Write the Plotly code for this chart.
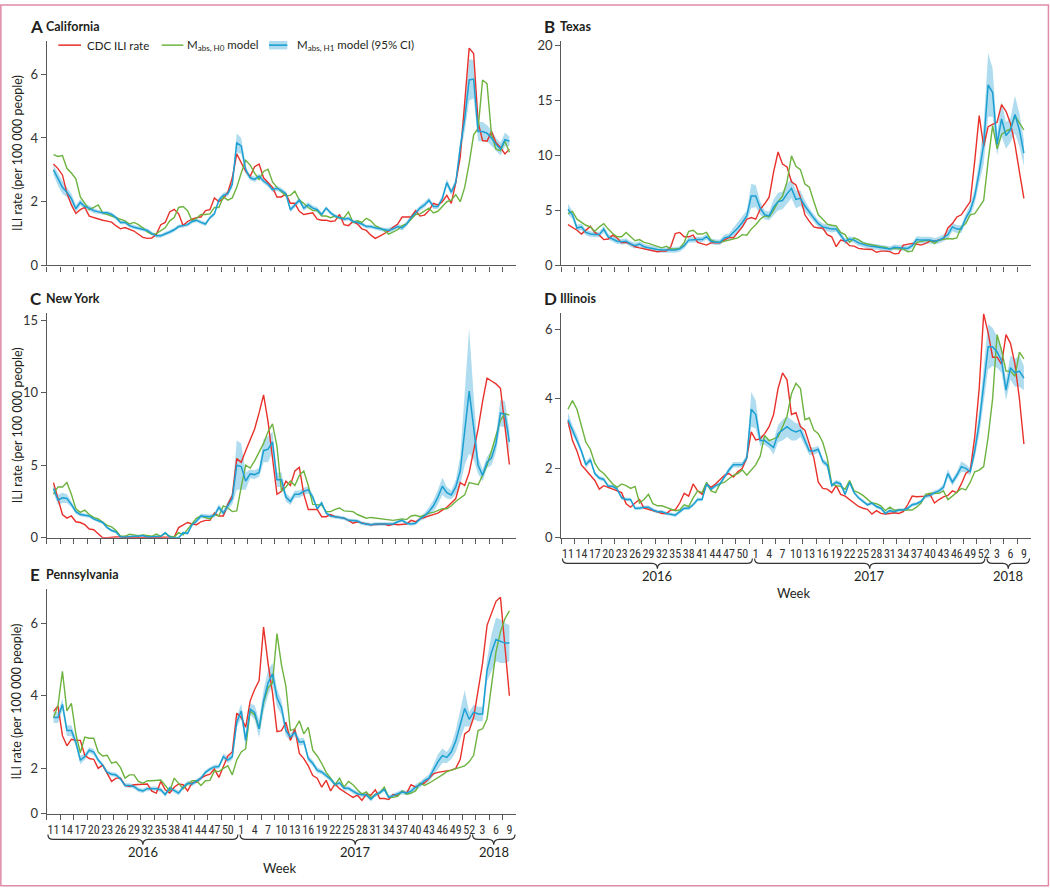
import plotly.graph_objects as go

# ---------------- data ----------------
weeks_2016 = list(range(11, 53))
weeks_2017 = list(range(1, 53))
weeks_2018 = list(range(1, 10))
week_numbers = weeks_2016 + weeks_2017 + weeks_2018
week_years = [2016] * len(weeks_2016) + [2017] * len(weeks_2017) + [2018] * len(weeks_2018)
year_labels = [2016, 2017, 2018]
x_idx = list(range(len(week_numbers)))

series_labels = ["CDC ILI rate", "M<sub>abs, H0</sub> model", "M<sub>abs, H1</sub> model (95% CI)"]
panel_letters = ["A", "B", "C", "D", "E"]
panel_states = ["California", "Texas", "New York", "Illinois", "Pennsylvania"]

# California
ca_cdc = [3.18, 3.04, 2.84, 2.27, 1.9, 1.63, 1.75, 1.82, 1.55, 1.5,
          1.47, 1.42, 1.39, 1.36, 1.24, 1.15, 1.19, 1.13, 1.08, 0.98,
          0.88, 0.85, 0.86, 0.98, 1.28, 1.35, 1.68, 1.76, 1.62, 1.25,
          1.38, 1.45, 1.5, 1.52, 1.72, 1.75, 2.12, 2.0, 2.1, 2.3,
          2.75, 3.5, 3.2, 2.95, 2.8, 3.1, 3.18, 2.75, 2.6, 2.45,
          2.15, 2.15, 2.25, 1.95, 1.95, 1.7, 1.6, 1.62, 1.65, 1.45,
          1.42, 1.42, 1.38, 1.4, 1.6, 1.28, 1.25, 1.38, 1.3, 1.15,
          1.1, 0.95, 0.85, 0.92, 1.0, 1.08, 1.2, 1.3, 1.52, 1.52,
          1.52, 1.72, 1.55, 1.58, 1.72, 1.95, 1.9, 2.0, 2.2, 1.95,
          2.6, 3.4, 5.0, 6.82, 6.65, 4.5, 3.92, 3.9, 4.2, 3.85,
          3.7, 3.5, 3.65]
ca_h0 = [3.48, 3.42, 3.45, 3.05, 2.9, 2.72, 2.15, 1.95, 1.75, 1.82,
         1.9, 1.65, 1.6, 1.55, 1.5, 1.47, 1.4, 1.3, 1.35, 1.28,
         1.18, 1.05, 0.98, 1.0, 1.1, 1.18, 1.4, 1.5, 1.82, 1.85,
         1.72, 1.4, 1.48, 1.6, 1.6, 1.62, 1.82, 1.82, 2.15, 2.05,
         2.12, 2.45, 2.9, 3.3, 3.15, 2.9, 2.7, 2.95, 3.02, 2.62,
         2.45, 2.32, 2.18, 2.2, 2.33, 2.05, 1.95, 1.82, 1.72, 1.72,
         1.55, 1.55, 1.5, 1.55, 1.48, 1.5, 1.68, 1.35, 1.4, 1.35,
         1.48, 1.4, 1.25, 1.18, 1.1, 0.98, 1.05, 1.12, 1.25, 1.3,
         1.45, 1.6, 1.62, 1.7, 1.8, 1.65, 1.7, 1.85, 2.0, 2.05,
         2.22, 2.0, 2.45, 3.2, 4.1, 4.3, 5.82, 5.7, 4.1, 3.65,
         3.6, 3.9, 3.55]
ca_h1 = [3.0, 2.7, 2.45, 2.3, 2.1, 1.78, 1.98, 1.85, 1.8, 1.72,
         1.68, 1.65, 1.65, 1.6, 1.5, 1.35, 1.35, 1.25, 1.2, 1.17,
         1.15, 1.1, 1.0, 0.93, 0.93, 0.98, 1.05, 1.12, 1.22, 1.25,
         1.28, 1.38, 1.42, 1.35, 1.3, 1.5, 1.62, 2.05, 2.2, 2.25,
         2.55, 3.85, 3.75, 3.0, 2.75, 2.7, 2.8, 2.65, 2.55, 2.38,
         2.42, 2.35, 2.25, 1.75, 1.9, 2.05, 1.8, 1.9, 1.8, 1.75,
         1.6, 1.8, 1.65, 1.55, 1.5, 1.45, 1.48, 1.38, 1.35, 1.3,
         1.22, 1.22, 1.18, 1.15, 1.12, 1.1, 1.15, 1.22, 1.18, 1.3,
         1.5, 1.65, 1.8, 1.9, 2.05, 1.85, 1.85, 2.1, 2.6, 2.3,
         2.6, 3.7, 4.6, 5.82, 5.85, 4.2, 4.2, 4.15, 4.0, 3.8,
         3.65, 3.95, 3.9]
ca_h1_ci = [0.15, 0.2, 0.2, 0.15, 0.15, 0.12, 0.1, 0.08, 0.08, 0.08,
            0.06, 0.06, 0.06, 0.06, 0.06, 0.06, 0.06, 0.06, 0.06, 0.06,
            0.06, 0.06, 0.06, 0.06, 0.06, 0.06, 0.06, 0.06, 0.06, 0.06,
            0.06, 0.06, 0.06, 0.06, 0.06, 0.06, 0.06, 0.08, 0.08, 0.08,
            0.12, 0.3, 0.25, 0.12, 0.08, 0.08, 0.08, 0.08, 0.08, 0.08,
            0.08, 0.08, 0.08, 0.08, 0.08, 0.08, 0.08, 0.08, 0.08, 0.08,
            0.06, 0.06, 0.06, 0.06, 0.06, 0.06, 0.06, 0.06, 0.06, 0.06,
            0.06, 0.06, 0.06, 0.06, 0.06, 0.08, 0.08, 0.08, 0.08, 0.08,
            0.08, 0.08, 0.08, 0.08, 0.08, 0.08, 0.08, 0.1, 0.12, 0.1,
            0.12, 0.2, 0.4, 0.65, 0.6, 0.3, 0.3, 0.25, 0.25, 0.2,
            0.2, 0.22, 0.15]

# Texas
tx_cdc = [3.7, 3.45, 3.2, 2.85, 3.2, 3.55, 3.0, 2.75, 2.35, 2.4,
          2.75, 2.5, 2.05, 2.1, 1.95, 1.7, 1.6, 1.5, 1.45, 1.3,
          1.25, 1.3, 1.3, 1.7, 2.9, 3.0, 2.6, 2.6, 2.75, 2.1,
          1.95, 1.85, 2.05, 2.05, 2.05, 2.3, 2.55, 2.5, 3.0, 3.5,
          4.2, 4.35, 4.2, 5.1, 5.6, 6.2, 8.5, 10.3, 9.2, 8.95,
          7.6, 7.3, 6.2, 4.6, 4.0, 3.5, 3.4, 3.4, 2.8, 2.6,
          1.7, 2.3, 2.2, 1.8, 1.75, 1.55, 1.5, 1.5, 1.45, 1.2,
          1.3, 1.3, 1.25, 1.05, 1.1, 1.85, 1.9, 2.0, 1.95, 1.85,
          2.0, 2.2, 2.2, 2.3, 2.4, 3.4, 3.8, 4.4, 4.6, 5.2,
          5.8, 9.5, 13.6, 10.8, 12.6, 12.8, 13.0, 14.6, 14.0, 12.9,
          11.0, 8.5, 6.1]
tx_h0 = [4.7, 4.9, 4.2, 3.9, 3.65, 3.5, 3.1, 3.5, 3.8, 3.3,
         2.9, 2.6, 2.6, 3.0, 2.6, 2.25, 2.35, 2.1, 2.0, 1.85,
         1.7, 1.6, 1.75, 1.5, 1.5, 1.55, 2.1, 3.1, 3.2, 2.85,
         2.85, 3.0, 2.3, 2.15, 2.1, 2.2, 2.3, 2.35, 2.5, 2.8,
         2.75, 3.3, 3.7, 4.2, 4.5, 4.4, 5.0, 5.8, 6.3, 7.6,
         9.95, 9.0, 8.7, 7.4, 7.1, 5.8, 4.6, 4.2, 3.75, 3.65,
         3.6, 3.0, 2.8, 2.1, 2.5, 2.35, 2.05, 1.95, 1.85, 1.75,
         1.7, 1.65, 1.5, 1.55, 1.55, 1.5, 1.25, 1.3, 2.1, 2.2,
         2.25, 2.25, 2.0, 2.3, 2.4, 2.45, 2.4, 2.5, 3.5, 3.8,
         4.6, 4.7, 5.3, 5.9, 9.5, 12.7, 10.6, 11.9, 12.2, 12.4,
         13.6, 13.0, 12.3]
tx_h1 = [5.1, 4.6, 3.4, 3.5, 3.0, 2.85, 2.8, 2.8, 3.3, 2.6,
         2.4, 2.2, 2.15, 2.2, 1.95, 1.8, 1.95, 1.7, 1.6, 1.5,
         1.45, 1.4, 1.4, 1.4, 1.4, 1.5, 1.8, 2.3, 2.35, 2.35,
         2.35, 2.6, 2.2, 2.1, 2.1, 2.5, 2.6, 3.0, 3.4, 3.9,
         4.5, 6.3, 6.3, 5.2, 4.6, 4.5, 5.3, 5.8, 5.9, 6.5,
         7.0, 6.0, 6.1, 5.4, 4.8, 4.3, 3.8, 3.5, 3.4, 3.3,
         3.3, 2.8, 2.2, 2.4, 2.3, 2.05, 1.9, 1.8, 1.75, 1.7,
         1.6, 1.6, 1.5, 1.65, 1.6, 1.55, 1.55, 1.8, 2.35, 2.3,
         2.3, 2.3, 2.2, 2.3, 2.5, 2.8, 3.5, 3.3, 3.3, 4.3,
         5.0, 6.3, 8.5, 11.0, 16.4, 15.7, 11.0, 13.3, 11.8, 12.3,
         13.7, 12.3, 10.2]
tx_h1_ci = [0.5, 0.35, 0.3, 0.3, 0.25, 0.25, 0.25, 0.25, 0.3, 0.25,
            0.25, 0.25, 0.25, 0.25, 0.25, 0.25, 0.25, 0.25, 0.25, 0.25,
            0.25, 0.25, 0.25, 0.25, 0.25, 0.25, 0.25, 0.25, 0.25, 0.25,
            0.25, 0.25, 0.25, 0.25, 0.25, 0.3, 0.3, 0.4, 0.5, 0.5,
            0.5, 1.1, 1.0, 0.6, 0.4, 0.4, 0.7, 0.8, 0.8, 0.9,
            0.9, 0.8, 0.7, 0.5, 0.4, 0.35, 0.3, 0.3, 0.3, 0.3,
            0.25, 0.25, 0.25, 0.25, 0.25, 0.25, 0.25, 0.25, 0.25, 0.25,
            0.25, 0.25, 0.25, 0.25, 0.25, 0.25, 0.25, 0.25, 0.3, 0.3,
            0.3, 0.3, 0.3, 0.3, 0.3, 0.4, 0.4, 0.35, 0.35, 0.4,
            0.5, 0.7, 1.0, 1.8, 2.9, 2.2, 1.0, 1.6, 1.2, 1.1,
            1.7, 1.5, 1.2]

# New York
ny_cdc = [3.8, 2.7, 1.6, 1.35, 1.5, 1.1, 1.05, 0.9, 0.6, 0.55,
          0.3, 0.0, 0.0, 0.05, 0.05, 0.05, 0.0, 0.0, 0.0, 0.0,
          0.05, 0.0, 0.0, 0.0, 0.0, 0.05, 0.0, 0.05, 0.7, 0.9,
          1.05, 0.95, 0.9, 1.1, 1.2, 1.2, 1.7, 1.5, 1.5, 2.3,
          2.9, 5.45, 5.2, 6.0, 6.7, 7.5, 8.6, 9.85, 8.0, 5.5,
          3.0, 3.2, 3.9, 3.6, 4.6, 4.85, 3.0, 1.95, 1.95, 1.95,
          1.45, 1.45, 1.6, 1.45, 1.4, 1.35, 1.2, 1.0, 1.1, 1.0,
          0.95, 0.9, 0.9, 0.9, 0.95, 0.85, 0.95, 0.9, 0.9, 0.95,
          1.2, 1.1, 1.3, 1.4, 1.5, 1.6, 1.7, 1.9, 2.1, 2.4,
          2.7, 3.8, 3.6, 4.5, 6.0, 7.5, 9.4, 11.0, 10.8, 10.6,
          10.3, 7.5, 5.05]
ny_h0 = [3.0, 3.5, 3.5, 3.8, 3.0, 2.0, 1.75, 1.9, 1.6, 1.4,
         1.3, 1.1, 0.85, 0.75, 0.5, 0.1, 0.1, 0.25, 0.2, 0.15,
         0.2, 0.15, 0.1, 0.25, 0.1, 0.3, 0.1, 0.05, 0.35, 0.2,
         0.6, 1.0, 1.35, 1.5, 1.4, 1.3, 1.6, 1.5, 2.2, 2.05,
         1.8, 1.85, 3.5, 5.0, 4.8, 5.3, 5.9, 6.5, 7.3, 7.85,
         6.3, 3.2, 3.5, 3.9, 3.6, 4.3, 4.6, 3.6, 2.3, 2.3,
         2.25, 1.8, 1.8, 1.95, 2.05, 1.85, 1.8, 1.8, 1.6, 1.5,
         1.35, 1.4, 1.35, 1.3, 1.25, 1.25, 1.2, 1.25, 1.3, 1.25,
         1.5, 1.55, 1.45, 1.55, 1.7, 1.75, 1.9, 2.0, 2.0, 2.2,
         2.5, 2.75, 2.95, 3.8, 3.7, 3.65, 4.3, 5.0, 6.0, 7.0,
         8.1, 8.55, 8.45]
ny_h1 = [3.4, 2.6, 2.75, 2.7, 2.3, 1.8, 1.6, 1.55, 1.5, 1.3,
         1.15, 1.05, 0.7, 0.5, 0.4, 0.05, 0.05, 0.1, 0.1, 0.1,
         0.15, 0.05, 0.05, 0.1, 0.1, 0.35, 0.05, 0.0, 0.0, 0.35,
         0.3, 0.9, 1.15, 1.5, 1.5, 1.45, 1.55, 2.1, 1.7, 2.2,
         2.7, 5.0, 4.9, 3.9, 4.4, 4.35, 4.5, 6.0, 6.1, 6.6,
         4.0, 4.0, 2.8, 2.5, 3.0, 3.0, 3.2, 3.3, 2.8, 2.0,
         2.4, 1.7, 1.5, 1.45, 1.4, 1.35, 1.2, 1.15, 1.15, 1.0,
         0.95, 0.9, 0.95, 0.95, 0.95, 0.9, 0.95, 1.1, 1.2, 1.0,
         0.95, 1.0, 1.3, 1.5, 1.8, 2.2, 2.8, 3.55, 3.1, 2.95,
         3.5, 4.6, 7.5, 10.1, 7.6, 5.0, 4.3, 5.2, 5.5, 6.5,
         8.6, 8.5, 6.6]
ny_h1_ci = [0.3, 0.35, 0.35, 0.3, 0.2, 0.15, 0.12, 0.12, 0.12, 0.12,
            0.1, 0.1, 0.1, 0.1, 0.1, 0.08, 0.08, 0.08, 0.08, 0.08,
            0.08, 0.08, 0.08, 0.08, 0.08, 0.08, 0.08, 0.08, 0.08, 0.08,
            0.1, 0.12, 0.15, 0.15, 0.15, 0.15, 0.15, 0.2, 0.2, 0.25,
            0.4, 1.7, 1.6, 0.6, 0.3, 0.3, 0.3, 0.8, 0.9, 0.7,
            0.5, 0.5, 0.3, 0.25, 0.25, 0.25, 0.25, 0.25, 0.2, 0.15,
            0.15, 0.12, 0.12, 0.12, 0.12, 0.12, 0.12, 0.12, 0.12, 0.12,
            0.12, 0.12, 0.12, 0.12, 0.12, 0.12, 0.12, 0.12, 0.12, 0.12,
            0.12, 0.12, 0.15, 0.2, 0.3, 0.4, 0.5, 0.6, 0.4, 0.3,
            0.5, 1.0, 2.5, 4.3, 2.2, 0.6, 0.4, 0.4, 0.5, 0.6,
            0.9, 0.9, 0.8]

# Illinois
il_cdc = [3.35, 2.8, 2.5, 2.1, 1.95, 1.8, 1.65, 1.4, 1.5, 1.45,
          1.4, 1.35, 1.3, 0.98, 0.88, 1.0, 1.1, 0.85, 0.82, 0.8,
          0.75, 0.7, 0.7, 0.8, 0.8, 1.0, 1.28, 1.2, 1.55, 1.35,
          1.25, 1.55, 1.45, 1.55, 1.68, 1.8, 1.85, 1.75, 1.9, 2.0,
          2.3, 3.05, 2.82, 2.85, 3.0, 3.2, 3.55, 4.3, 4.75, 4.55,
          3.55, 3.6, 3.2, 3.1, 2.7, 2.3, 1.6, 1.42, 1.4, 1.3,
          1.5, 1.25, 1.2, 1.1, 1.0, 0.9, 0.85, 0.82, 0.68, 0.78,
          0.7, 0.68, 0.7, 0.72, 0.7, 0.75, 0.95, 1.2, 1.18, 1.18,
          1.2, 1.25, 1.0, 1.1, 1.18, 1.22, 1.35, 1.3, 1.55, 1.85,
          1.95, 2.9, 4.3, 6.45, 5.9, 5.2, 5.2, 5.0, 5.85, 5.6,
          5.0, 4.0, 2.7]
il_h0 = [3.7, 3.95, 3.7, 3.2, 2.75, 2.55, 2.15, 1.95, 1.85, 1.7,
         1.55, 1.45, 1.55, 1.5, 1.42, 1.48, 1.0, 1.1, 1.25, 0.98,
         0.92, 0.92, 0.88, 0.82, 0.78, 0.8, 0.95, 0.9, 1.15, 1.35,
         1.3, 1.6, 1.35, 1.3, 1.55, 1.6, 1.7, 1.8, 1.85, 1.95,
         1.8, 1.95, 2.1, 2.35, 2.95, 2.8, 2.85, 2.9, 3.2, 3.5,
         4.15, 4.45, 4.3, 3.4, 3.45, 3.1, 3.0, 2.75, 2.3, 1.55,
         1.5, 1.48, 1.4, 1.65, 1.35, 1.3, 1.22, 1.12, 1.0, 0.98,
         0.92, 0.78, 0.88, 0.8, 0.8, 0.8, 0.8, 0.8, 0.88, 1.0,
         1.25, 1.28, 1.28, 1.28, 1.35, 1.1, 1.2, 1.3, 1.42, 1.38,
         1.6, 1.9, 1.95, 2.05, 2.9, 4.0, 5.85, 5.4, 4.8, 4.8,
         4.65, 5.35, 5.15]
il_h1 = [3.4, 3.1, 2.85, 2.5, 2.1, 2.25, 1.85, 1.72, 1.68, 1.48,
         1.48, 1.4, 1.15, 1.1, 1.1, 0.85, 0.85, 0.88, 0.88, 0.8,
         0.75, 0.75, 0.7, 0.68, 0.65, 0.75, 0.85, 0.85, 0.95, 1.1,
         1.1, 1.55, 1.4, 1.5, 1.55, 1.75, 1.95, 2.1, 2.1, 2.1,
         2.3, 3.7, 3.55, 2.8, 2.8, 2.7, 2.6, 3.0, 3.1, 3.2,
         3.1, 3.05, 3.1, 2.8, 2.5, 2.5, 2.55, 2.2, 2.1, 1.5,
         1.6, 1.55, 1.25, 1.6, 1.3, 1.15, 1.05, 0.95, 1.0, 0.9,
         0.85, 0.7, 0.78, 0.75, 0.8, 0.8, 0.85, 0.95, 0.98, 1.05,
         1.2, 1.22, 1.3, 1.35, 1.45, 1.85, 1.6, 1.8, 2.05, 2.0,
         1.9, 2.5, 3.3, 4.4, 5.5, 5.5, 5.35, 5.1, 4.25, 4.9,
         4.75, 4.8, 4.6]
il_h1_ci = [0.2, 0.15, 0.12, 0.1, 0.1, 0.08, 0.06, 0.06, 0.06, 0.06,
            0.05, 0.05, 0.05, 0.05, 0.05, 0.05, 0.05, 0.05, 0.05, 0.05,
            0.05, 0.05, 0.05, 0.05, 0.05, 0.05, 0.05, 0.05, 0.05, 0.05,
            0.05, 0.06, 0.06, 0.06, 0.06, 0.06, 0.08, 0.08, 0.08, 0.08,
            0.1, 0.5, 0.4, 0.15, 0.12, 0.12, 0.2, 0.25, 0.3, 0.3,
            0.3, 0.25, 0.2, 0.15, 0.12, 0.1, 0.1, 0.08, 0.08, 0.06,
            0.06, 0.06, 0.06, 0.06, 0.05, 0.05, 0.05, 0.05, 0.05, 0.05,
            0.05, 0.05, 0.05, 0.05, 0.05, 0.05, 0.05, 0.05, 0.05, 0.05,
            0.06, 0.06, 0.06, 0.06, 0.1, 0.12, 0.1, 0.1, 0.15, 0.12,
            0.1, 0.2, 0.35, 0.5, 0.65, 0.55, 0.45, 0.35, 0.3, 0.35,
            0.4, 0.45, 0.35]

# Pennsylvania
pa_cdc = [3.57, 3.72, 2.9, 2.62, 2.8, 2.77, 2.77, 2.36, 2.27, 2.25,
          2.0, 2.09, 1.86, 1.64, 1.73, 1.73, 1.53, 1.5, 1.55, 1.55,
          1.57, 1.57, 1.37, 1.32, 1.64, 1.41, 1.32, 1.48, 1.57, 1.55,
          1.38, 1.6, 1.62, 1.73, 1.8, 1.84, 1.98, 1.75, 2.05, 2.34,
          2.45, 3.52, 3.4, 3.13, 3.86, 4.17, 4.42, 5.89, 4.9, 4.08,
          3.01, 3.04, 3.27, 2.77, 3.09, 2.41, 2.27, 2.07, 1.8, 1.73,
          1.48, 1.67, 1.38, 1.57, 1.44, 1.35, 1.28, 1.2, 1.26, 1.12,
          1.29, 1.26, 1.41, 1.17, 1.17, 1.14, 1.28, 1.26, 1.37, 1.32,
          1.55, 1.48, 1.55, 1.59, 1.73, 1.85, 1.89, 1.91, 1.93, 1.95,
          2.0, 2.25, 2.95, 3.04, 3.4, 4.1, 4.9, 5.94, 6.3, 6.6,
          6.71, 5.4, 4.0]
pa_h0 = [3.4, 3.72, 4.67, 3.58, 3.79, 2.95, 2.43, 2.86, 2.83, 2.83,
         2.45, 2.34, 2.36, 2.14, 2.18, 2.02, 1.73, 1.82, 1.82, 1.64,
         1.59, 1.66, 1.66, 1.66, 1.68, 1.53, 1.37, 1.73, 1.59, 1.44,
         1.57, 1.66, 1.66, 1.53, 1.66, 1.67, 1.93, 1.91, 2.0, 2.07,
         1.82, 2.23, 2.45, 2.54, 3.58, 3.47, 3.09, 3.81, 4.22, 4.35,
         5.71, 4.85, 4.26, 3.04, 3.09, 3.31, 2.95, 3.13, 2.5, 2.34,
         2.14, 1.89, 1.73, 1.55, 1.73, 1.48, 1.64, 1.55, 1.41, 1.29,
         1.35, 1.19, 1.28, 1.32, 1.48, 1.2, 1.2, 1.23, 1.38, 1.29,
         1.32, 1.38, 1.59, 1.53, 1.59, 1.66, 1.73, 1.82, 1.91, 1.95,
         2.0, 2.05, 2.07, 2.18, 2.36, 3.04, 3.09, 3.36, 4.35, 5.21,
         5.76, 6.12, 6.34]
pa_h1 = [3.4, 3.4, 3.76, 3.04, 3.04, 2.72, 2.23, 2.32, 2.5, 2.45,
         2.23, 2.09, 1.89, 1.84, 1.82, 1.71, 1.53, 1.53, 1.5, 1.41,
         1.38, 1.44, 1.44, 1.44, 1.41, 1.28, 1.46, 1.38, 1.32, 1.48,
         1.59, 1.57, 1.66, 1.73, 1.89, 1.98, 2.04, 2.05, 2.32, 2.23,
         2.32, 3.27, 3.58, 2.77, 3.63, 3.54, 3.09, 3.86, 4.35, 4.6,
         3.95, 3.67, 3.04, 2.86, 2.99, 2.72, 2.74, 2.27, 2.14, 1.95,
         1.9, 1.8, 1.7, 1.55, 1.6, 1.45, 1.45, 1.37, 1.3, 1.27,
         1.27, 1.15, 1.27, 1.33, 1.42, 1.2, 1.25, 1.28, 1.35, 1.32,
         1.37, 1.48, 1.55, 1.66, 1.73, 1.95, 2.18, 2.35, 2.3, 2.45,
         2.75, 3.2, 3.65, 3.35, 3.55, 3.5, 3.5, 4.7, 5.2, 5.55,
         5.5, 5.45, 5.45]
pa_h1_ci = [0.15, 0.15, 0.15, 0.15, 0.15, 0.12, 0.12, 0.08, 0.08, 0.08,
            0.06, 0.06, 0.06, 0.06, 0.06, 0.06, 0.06, 0.06, 0.06, 0.06,
            0.06, 0.06, 0.06, 0.06, 0.06, 0.06, 0.06, 0.06, 0.06, 0.06,
            0.06, 0.06, 0.06, 0.06, 0.06, 0.06, 0.06, 0.06, 0.08, 0.08,
            0.08, 0.15, 0.2, 0.2, 0.15, 0.2, 0.25, 0.3, 0.35, 0.3,
            0.25, 0.2, 0.15, 0.1, 0.1, 0.1, 0.1, 0.08, 0.08, 0.08,
            0.06, 0.06, 0.06, 0.06, 0.06, 0.06, 0.06, 0.06, 0.06, 0.06,
            0.06, 0.06, 0.06, 0.06, 0.06, 0.06, 0.06, 0.06, 0.06, 0.06,
            0.08, 0.08, 0.08, 0.08, 0.1, 0.15, 0.2, 0.2, 0.15, 0.2,
            0.3, 0.4, 0.5, 0.2, 0.2, 0.2, 0.2, 0.3, 0.5, 0.6,
            0.6, 0.55, 0.5]

# y-axis tick values per panel (Pennsylvania's drawn axis starts its "0" at ~0.75)
y_tickvals = [[0, 2, 4, 6], [0, 5, 10, 15, 20], [0, 5, 10, 15], [0, 2, 4, 6], [0.751, 2, 4, 6]]
y_ticktext = [["0", "2", "4", "6"], ["0", "5", "10", "15", "20"], ["0", "5", "10", "15"],
              ["0", "2", "4", "6"], ["0", "2", "4", "6"]]
y_ranges = [[0, 7.05], [0, 20.4], [0, 15.5], [0, 6.48], [0.751, 6.93]]

panels = [
    (ca_cdc, ca_h0, ca_h1, ca_h1_ci),
    (tx_cdc, tx_h0, tx_h1, tx_h1_ci),
    (ny_cdc, ny_h0, ny_h1, ny_h1_ci),
    (il_cdc, il_h0, il_h1, il_h1_ci),
    (pa_cdc, pa_h0, pa_h1, pa_h1_ci),
]

# ---------------- style ----------------
W, H = 1050, 895
FONT = "Lato"
NARROW = "Liberation Sans Narrow, Roboto Condensed, Lato"
TXT = "#231f20"
AX = "#595959"
RED = "#e8312b"
GREEN = "#6db33f"
BLUE = "#1c9fd2"
BAND = "rgba(150,208,234,0.75)"

def px_x(p):
    return p / W

def px_y(p):
    return 1 - p / H

col_dom = [[px_x(46.8), px_x(516.1)], [px_x(561.3), px_x(1030.6)]]
row_px = [(37.3, 265.0), (313.0, 541.0), (593.3, 820.7)]
row_dom = [[px_y(b), px_y(t)] for (t, b) in row_px]
panel_pos = [(0, 0), (1, 0), (0, 1), (1, 1), (0, 2)]  # (col, row)
show_xlabels = [False, False, False, True, True]

label_idx = x_idx[::3]
label_txt = [str(week_numbers[i]) for i in label_idx]
minor_vals = [i - 1.5 for i in range(0, len(x_idx) + 2, 3)]

fig = go.Figure()
layout = dict(
    width=W, height=H, margin=dict(l=0, r=0, t=0, b=0),
    paper_bgcolor="white", plot_bgcolor="white", showlegend=False,
    font=dict(family=FONT, color=TXT),
)
shapes, annotations = [], []

for k, (cdc, h0, h1, ci) in enumerate(panels):
    n = k + 1
    xs = "x" if n == 1 else f"x{n}"
    ys = "y" if n == 1 else f"y{n}"
    col, row = panel_pos[k]
    lower = [v - c for v, c in zip(h1, ci)]
    upper = [v + c for v, c in zip(h1, ci)]
    fig.add_trace(go.Scatter(x=x_idx, y=lower, mode="lines", line=dict(width=0, color=BAND),
                             hoverinfo="skip", xaxis=xs, yaxis=ys))
    fig.add_trace(go.Scatter(x=x_idx, y=upper, mode="lines", line=dict(width=0, color=BAND),
                             fill="tonexty", fillcolor=BAND, hoverinfo="skip", xaxis=xs, yaxis=ys))
    fig.add_trace(go.Scatter(x=x_idx, y=cdc, mode="lines", name=series_labels[0],
                             line=dict(color=RED, width=1.4), xaxis=xs, yaxis=ys))
    fig.add_trace(go.Scatter(x=x_idx, y=h0, mode="lines", name=series_labels[1],
                             line=dict(color=GREEN, width=1.4), xaxis=xs, yaxis=ys))
    fig.add_trace(go.Scatter(x=x_idx, y=h1, mode="lines", name=series_labels[2],
                             line=dict(color=BLUE, width=1.5), xaxis=xs, yaxis=ys))

    xkey = "xaxis" if n == 1 else f"xaxis{n}"
    ykey = "yaxis" if n == 1 else f"yaxis{n}"
    layout[xkey] = dict(
        domain=col_dom[col], anchor=ys, range=[-1.5, len(x_idx) + 0.5],
        showline=True, linecolor=AX, linewidth=1.3, showgrid=False, zeroline=False,
        ticks="", tickmode="array", tickvals=label_idx, ticktext=label_txt, tickangle=0,
        showticklabels=show_xlabels[k], tickfont=dict(size=12, color="#333333", family=NARROW),
        ticklabelstandoff=5,
        minor=dict(ticks="outside", ticklen=5, tickwidth=1.2, tickcolor=AX,
                   tickmode="array", tickvals=minor_vals, showgrid=False),
    )
    layout[ykey] = dict(
        domain=row_dom[row], anchor=xs, range=y_ranges[k],
        showline=True, linecolor=AX, linewidth=1.3, showgrid=False, zeroline=False,
        ticks="outside", ticklen=5, tickwidth=1.2, tickcolor=AX,
        tickmode="array", tickvals=y_tickvals[k], ticktext=y_ticktext[k],
        tickfont=dict(size=13, color="#333333", family=FONT),
    )

    # panel title
    top_px = row_px[row][0]
    left_px = 28 if col == 0 else 542
    annotations.append(dict(x=px_x(left_px), y=px_y(top_px - 15), xref="paper", yref="paper",
                            text=f"<b>{panel_letters[k]}</b>", showarrow=False,
                            xanchor="left", yanchor="middle",
                            font=dict(size=17, family=FONT, color=TXT)))
    annotations.append(dict(x=px_x(left_px + 16), y=px_y(top_px - 15), xref="paper", yref="paper",
                            text=f"<b>{panel_states[k]}</b>", showarrow=False,
                            xanchor="left", yanchor="middle",
                            font=dict(size=12.5, family=FONT, color=TXT)))

    # y-axis title on left column
    if col == 0:
        t, b = row_px[row]
        annotations.append(dict(x=px_x(17), y=px_y((t + b) / 2), xref="paper", yref="paper",
                                text="ILI rate (per 100 000 people)", textangle=-90, showarrow=False,
                                xanchor="center", yanchor="middle",
                                font=dict(size=12.5, family=FONT, color=TXT)))

    # year braces + Week label
    if show_xlabels[k]:
        axis_px = row_px[row][1]
        yt, yl, yp = px_y(axis_px + 21), px_y(axis_px + 26), px_y(axis_px + 31.5)
        for yi, yr in enumerate(year_labels):
            idxs = [i for i, w in enumerate(week_years) if w == yr]
            x0 = (idxs[0] - 0.5 if yi > 0 else -1.5) + 0.25
            x1 = (idxs[-1] + 0.5 if yi < len(year_labels) - 1 else len(x_idx) + 0.5) - 0.25
            xm = (x0 + x1) / 2
            r = 1.2
            path = (f"M {x0},{yt} Q {x0},{yl} {x0 + r},{yl} L {xm - r},{yl} "
                    f"Q {xm},{yl} {xm},{yp} Q {xm},{yl} {xm + r},{yl} "
                    f"L {x1 - r},{yl} Q {x1},{yl} {x1},{yt}")
            shapes.append(dict(type="path", path=path, xref=xs, yref="paper",
                               line=dict(color="#333333", width=1.2)))
            annotations.append(dict(x=xm, y=px_y(axis_px + 38.5), xref=xs, yref="paper",
                                    text=str(yr), showarrow=False, xanchor="center", yanchor="middle",
                                    font=dict(size=13, family=FONT, color=TXT)))
        annotations.append(dict(x=(len(x_idx) - 2) / 2, y=px_y(axis_px + 55.5), xref=xs, yref="paper",
                                text="Week", showarrow=False, xanchor="center", yanchor="middle",
                                font=dict(size=13, family=FONT, color=TXT)))

# legend (manual, panel A)
leg_y = px_y(41.7)
shapes.append(dict(type="line", xref="paper", yref="paper", x0=px_x(58.3), x1=px_x(81), y0=leg_y, y1=leg_y,
                   line=dict(color=RED, width=1.5)))
shapes.append(dict(type="line", xref="paper", yref="paper", x0=px_x(161.7), x1=px_x(183.3), y0=leg_y, y1=leg_y,
                   line=dict(color=GREEN, width=1.5)))
shapes.append(dict(type="rect", xref="paper", yref="paper", x0=px_x(269), x1=px_x(287.3),
                   y0=px_y(46), y1=px_y(37.5), fillcolor=BAND, line=dict(width=0)))
shapes.append(dict(type="line", xref="paper", yref="paper", x0=px_x(269), x1=px_x(287.3), y0=leg_y, y1=leg_y,
                   line=dict(color=BLUE, width=1.6)))
for xpos, txt in [(84.5, series_labels[0]), (185, series_labels[1]), (294.5, series_labels[2])]:
    annotations.append(dict(x=px_x(xpos), y=leg_y, xref="paper", yref="paper", text=txt,
                            showarrow=False, xanchor="left", yanchor="middle",
                            font=dict(size=11.5, family=FONT, color=TXT)))

# page frame
shapes.append(dict(type="rect", xref="paper", yref="paper", x0=0.0008, x1=0.9985, y0=0.0015, y1=0.999,
                   line=dict(color="#e08aa8", width=1.5), fillcolor="rgba(0,0,0,0)"))

layout["shapes"] = shapes
layout["annotations"] = annotations
fig.update_layout(**layout)
fig.write_html("out.html", config={"displayModeBar": False},
               post_script="document.body.style.margin='0';document.body.style.overflow='hidden';")
